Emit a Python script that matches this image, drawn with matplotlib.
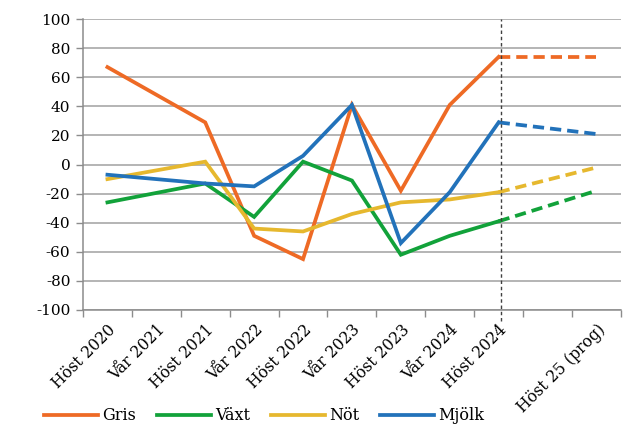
import numpy as np
import matplotlib
matplotlib.use('Agg')
import matplotlib.pyplot as plt

perioder = ['Höst 2020', 'Vår 2021', 'Höst 2021', 'Vår 2022', 'Höst 2022',
            'Vår 2023', 'Höst 2023', 'Vår 2024', 'Höst 2024', '', 'Höst 25 (prog)']

# utfall (None = saknas), sista värdet = Höst 2024
gris = [67, None, 29, -49, -65, 41, -18, 41, 74]
vaxt = [-26, None, -13, -36, 2, -11, -62, -49, -39]
not_ = [-10, None, 2, -44, -46, -34, -26, -24, -19]
mjolk = [-7, None, -13, -15, 6, 41, -54, -19, 29]

# prognos Höst 25
gris_prog = 74
vaxt_prog = -18
not_prog = -2
mjolk_prog = 21

serier = [('Gris', gris, gris_prog, '#EE6A25'),
          ('Växt', vaxt, vaxt_prog, '#12A23A'),
          ('Nöt', not_, not_prog, '#E6B82E'),
          ('Mjölk', mjolk, mjolk_prog, '#2272BA')]

plt.rcParams['font.family'] = ['DejaVu Serif']
plt.rcParams['axes.unicode_minus'] = False

fig = plt.figure(figsize=(6.24, 4.25), dpi=100)
ax = fig.add_axes([0.133, 0.2706, 0.862, 0.6844])

lw = 2.7
for namn, vals, prog, col in serier:
    x = [i for i, v in enumerate(vals) if v is not None]
    y = [v for v in vals if v is not None]
    ax.plot(x, y, color=col, lw=lw, label=namn, solid_joinstyle='miter', zorder=3)
    ax.plot([len(vals) - 1, len(perioder) - 1], [vals[-1], prog], color=col, lw=lw,
            linestyle=(0, (3, 1.6)), zorder=3)

ax.set_xlim(-0.5, len(perioder) - 0.5)
ax.set_ylim(-100, 100)
ax.set_yticks(np.arange(-100, 101, 20))
ax.yaxis.grid(True, color='#a0a0a0', lw=1.1)
ax.set_axisbelow(True)

ax.set_xticks(np.arange(-0.5, len(perioder), 1))
ax.set_xticklabels([])
ax.set_xticks(np.arange(len(perioder)), minor=True)
ax.set_xticklabels(perioder, minor=True, rotation=45, ha='right', rotation_mode='anchor')
ax.tick_params(axis='x', which='minor', length=0, pad=8, labelsize=11.3)
ax.tick_params(axis='x', which='major', length=5, color='#8c8c8c', width=1)
ax.tick_params(axis='y', length=5, color='#8c8c8c', width=1, labelsize=11, pad=4)

for s in ['top', 'right']:
    ax.spines[s].set_visible(False)
for s in ['left', 'bottom']:
    ax.spines[s].set_color('#8c8c8c')
    ax.spines[s].set_linewidth(1.1)

ax.axvline(8.05, ymin=-0.038, ymax=1, color='#404040', lw=1, linestyle=(0, (2.5, 2)),
           clip_on=False, zorder=4)

leg = fig.legend(loc='lower left', bbox_to_anchor=(0.055, -0.021), ncol=4, frameon=False,
                 fontsize=11.5, handlelength=3.4, columnspacing=1.3, handletextpad=0.25,
                 borderpad=0.1)

plt.savefig('out.png', dpi=100)
